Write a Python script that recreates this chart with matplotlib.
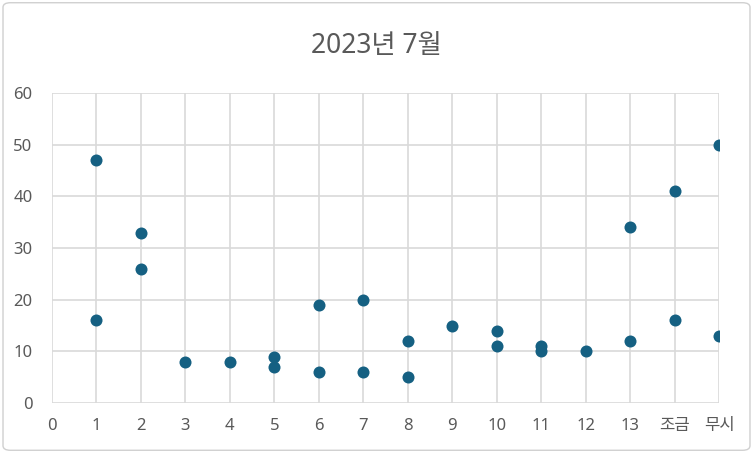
import matplotlib
matplotlib.use("Agg")
import matplotlib.pyplot as plt
from matplotlib.patches import FancyBboxPatch

plt.rcParams["font.family"] = ["Noto Sans", "Noto Sans CJK KR", "DejaVu Sans"]

# 각 날짜(열)별 관측값
x_vals = [1, 1, 2, 2, 3, 4, 5, 5, 6, 6, 7, 7, 8, 8, 9, 10, 10, 11, 11, 12, 13, 13, 14, 14, 15, 15]
y_vals = [47, 16, 33, 26, 8, 8, 9, 7, 19, 6, 20, 6, 12, 5, 15, 14, 11, 11, 10, 10, 34, 12, 41, 16, 50, 13]
x_ticks = list(range(16))
x_labels = [str(i) for i in range(14)] + ["조금", "무시"]
y_ticks = [0, 10, 20, 30, 40, 50, 60]

GRID = "#d9d9d9"
TXT = "#595959"

fig = plt.figure(figsize=(7.53, 4.53), dpi=100)
fig.patches.append(FancyBboxPatch((0.004, 0.006), 0.992, 0.988, boxstyle="round,pad=0,rounding_size=0.01",
                                  transform=fig.transFigure, fill=False, edgecolor="#d0d0d0", linewidth=1))
ax = fig.add_axes([0.069, 0.110, 0.886, 0.685])
ax.scatter(x_vals, y_vals, s=75, color="#156082", zorder=3, linewidths=0)
ax.set_xlim(0, 15)
ax.set_ylim(0, 60)
ax.set_xticks(x_ticks)
ax.set_xticklabels(x_labels)
ax.set_yticks(y_ticks)
ax.grid(True, color=GRID, linewidth=1.2)
ax.set_axisbelow(True)
for s in ax.spines.values():
    s.set_visible(False)
ax.tick_params(length=0, labelsize=12, labelcolor=TXT, pad=11)
ax.tick_params(axis="y", pad=14)
fig.text(0.5, 0.898, "2023년 7월", fontsize=19, color=TXT, ha="center", va="center")

fig.savefig("out.png", dpi=100, facecolor="white")
